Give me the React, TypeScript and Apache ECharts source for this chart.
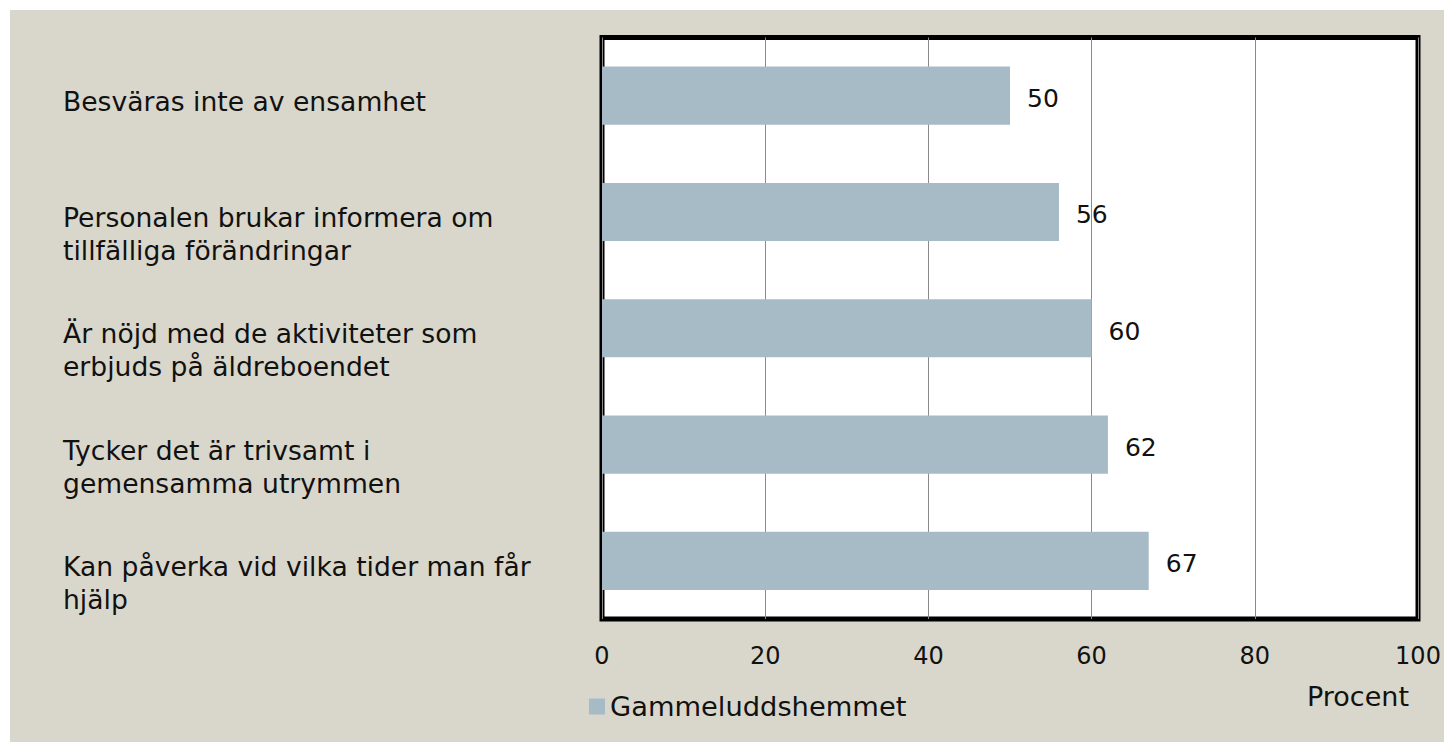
import React, { useEffect, useRef } from "react";
import * as echarts from "echarts";

const categories = [
  "Besväras inte av ensamhet",
  "Personalen brukar informera om\ntillfälliga förändringar",
  "Är nöjd med de aktiviteter som\nerbjuds på äldreboendet",
  "Tycker det är trivsamt i\ngemensamma utrymmen",
  "Kan påverka vid vilka tider man får\nhjälp",
];
const values = [50, 56, 60, 62, 67];
const seriesName = "Gammeluddshemmet";
const axisName = "Procent";

const FONT = "DejaVu Sans";

export default function App() {
  const ref = useRef<HTMLDivElement>(null);
  useEffect(() => {
    if (!ref.current) return;
    const chart = echarts.init(ref.current, null, { renderer: "svg" });
    chart.setOption({
      animation: false,
      backgroundColor: "#d9d7cb",
      textStyle: { fontFamily: FONT },
      legend: {
        left: 574,
        top: 678,
        itemWidth: 16,
        itemHeight: 16,
        icon: "rect",
        textStyle: { fontFamily: FONT, fontSize: 27.3, color: "#111" },
        data: [seriesName],
      },
      grid: {
        left: 592,
        top: 27.5,
        width: 816,
        height: 581.5,
        show: true,
        backgroundColor: "#ffffff",
        borderColor: "#000000",
        borderWidth: 5,
        containLabel: false,
      },
      xAxis: {
        type: "value",
        min: 0,
        max: 100,
        interval: 20,
        name: axisName,
        nameLocation: "end",
        nameGap: -9,
        nameTextStyle: {
          fontFamily: FONT,
          fontSize: 27,
          color: "#111",
          align: "right",
          verticalAlign: "top",
          padding: [64, 0, 0, 0],
        },
        axisLine: { show: false },
        axisTick: { show: false },
        axisLabel: { fontFamily: FONT, fontSize: 24, color: "#111", margin: 25 },
        splitLine: { show: true, lineStyle: { color: "#8a8a8a", width: 1 } },
      },
      yAxis: {
        type: "category",
        data: categories,
        inverse: true,
        axisLine: { show: false },
        axisTick: { show: false },
        splitLine: { show: false },
        axisLabel: {
          interval: 0,
          fontFamily: FONT,
          fontSize: 26.6,
          lineHeight: 33,
          color: "#111",
          align: "left",
          verticalAlign: "top",
          margin: 539,
          padding: [-11, 0, 0, 0],
        },
      },
      series: [
        {
          name: seriesName,
          type: "bar",
          data: values,
          barCategoryGap: "50%",
          itemStyle: { color: "#a7bbc6" },
          label: {
            show: true,
            position: "right",
            distance: 17,
            offset: [0, 3],
            fontFamily: FONT,
            fontSize: 25,
            color: "#111",
          },
        },
      ],
    });
    return () => chart.dispose();
  }, []);
  return (
    <div
      ref={ref}
      style={{ width: 1442, height: 732, marginLeft: 2, marginTop: 2 }}
    />
  );
}
